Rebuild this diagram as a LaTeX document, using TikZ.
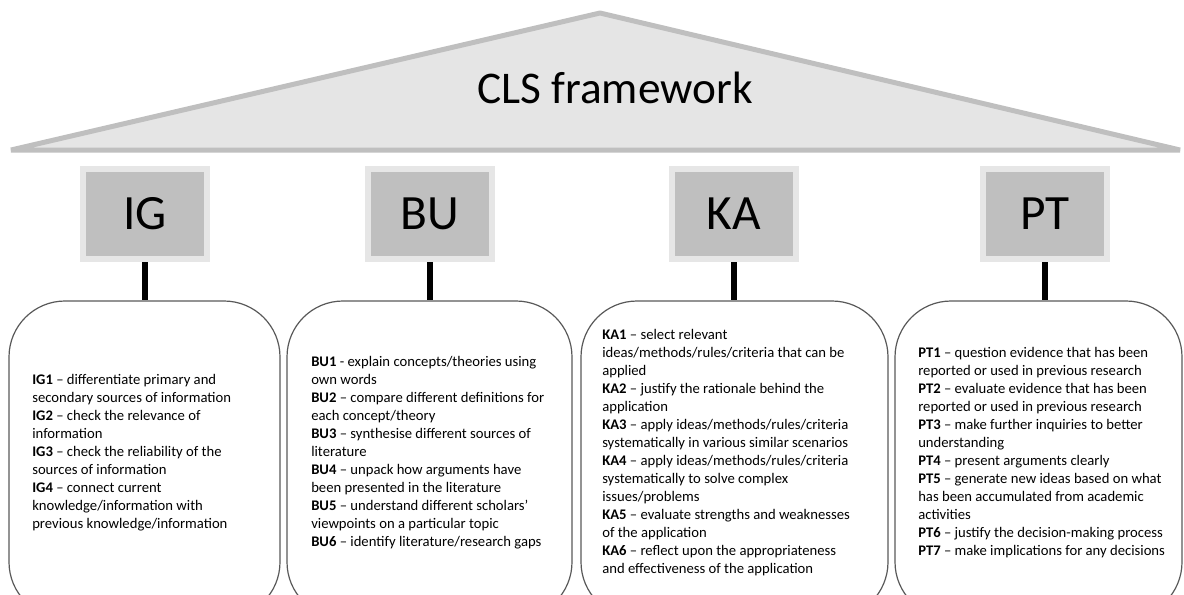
\documentclass[tikz,border=0pt]{standalone}
\usepackage{fontspec}
\setmainfont{Carlito}
\definecolor{roofgray}{HTML}{E5E5E5}
\definecolor{roofline}{HTML}{BFBFBF}
\definecolor{catfill}{HTML}{BFBFBF}
\definecolor{catborder}{HTML}{E6E6E6}
\definecolor{boxline}{HTML}{595959}
\begin{document}
\begin{tikzpicture}[x=0.75pt,y=-0.75pt,
  roof/.style={fill=roofgray, draw=roofline, line width=3.75pt, line join=bevel},
  title/.style={font=\fontsize{34}{38}\selectfont, inner sep=0pt},
  catbox/.style={fill=catfill, draw=catborder, line width=4.5pt, minimum width=93pt, minimum height=67.5pt, inner sep=0pt, font=\fontsize{37}{40}\selectfont},
  link/.style={line width=4.5pt, black},
  listbox/.style={draw=boxline, line width=0.9pt, rounded corners=42pt, inner sep=0pt, minimum height=237.75pt},
  listtext/.style={anchor=west, align=left, inner sep=0pt, font=\fontsize{11}{13.5}\selectfont}
]
\useasboundingbox (0,0) rectangle (1184,594);
\clip (0,0) rectangle (1184,594);
% roof
\draw[roof] (11,150) -- (600,13) -- (1180,150) -- cycle;
\node[title] (ttl) at (615,88) {CLS framework};
% category boxes
\node[catbox] (ig) at (145,214) {IG};
\node[catbox] (bu) at (430,214) {BU};
\node[catbox] (ka) at (734,214) {KA};
\node[catbox] (pt) at (1045,214) {PT};
% list boxes
\node[listbox, minimum width=203.25pt] (igbox) at (144.5,459.5) {};
\node[listbox, minimum width=213.75pt] (bubox) at (429.5,459.5) {};
\node[listbox, minimum width=230.25pt] (kabox) at (734.5,459.5) {};
\node[listbox, minimum width=215.25pt] (ptbox) at (1038.5,459.5) {};
% connectors
\draw[link] (ig.south) -- (ig.south |- igbox.north);
\draw[link] (bu.south) -- (bu.south |- bubox.north);
\draw[link] (ka.south) -- (ka.south |- kabox.north);
\draw[link] (pt.south) -- (pt.south |- ptbox.north);
% texts
\node[listtext] (igtxt) at (32,453) {\textbf{IG1} – differentiate primary and\\
secondary sources of information\\
\textbf{IG2} – check the relevance of\\
information\\
\textbf{IG3} – check the reliability of the\\
sources of information\\
\textbf{IG4} – connect current\\
knowledge/information with\\
previous knowledge/information};
\node[listtext] (butxt) at (311,452.5) {\textbf{BU1} - explain concepts/theories using\\
own words\\
\textbf{BU2} – compare different definitions for\\
each concept/theory\\
\textbf{BU3} – synthesise different sources of\\
literature\\
\textbf{BU4} – unpack how arguments have\\
been presented in the literature\\
\textbf{BU5} – understand different scholars’\\
viewpoints on a particular topic\\
\textbf{BU6} – identify literature/research gaps};
\node[listtext] (katxt) at (602,452.5) {\textbf{KA1} – select relevant\\
ideas/methods/rules/criteria that can be\\
applied\\
\textbf{KA2} – justify the rationale behind the\\
application\\
\textbf{KA3} – apply ideas/methods/rules/criteria\\
systematically in various similar scenarios\\
\textbf{KA4} – apply ideas/methods/rules/criteria\\
systematically to solve complex\\
issues/problems\\
\textbf{KA5} – evaluate strengths and weaknesses\\
of the application\\
\textbf{KA6} – reflect upon the appropriateness\\
and effectiveness of the application};
\node[listtext] (pttxt) at (918,452.5) {\textbf{PT1} – question evidence that has been\\
reported or used in previous research\\
\textbf{PT2} – evaluate evidence that has been\\
reported or used in previous research\\
\textbf{PT3} – make further inquiries to better\\
understanding\\
\textbf{PT4} – present arguments clearly\\
\textbf{PT5} – generate new ideas based on what\\
has been accumulated from academic\\
activities\\
\textbf{PT6} – justify the decision-making process\\
\textbf{PT7} – make implications for any decisions};
\end{tikzpicture}
\end{document}
